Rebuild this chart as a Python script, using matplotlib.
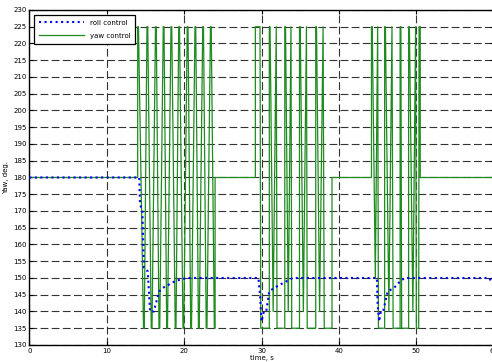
import numpy as np
import matplotlib
matplotlib.use('Agg')
from matplotlib import pyplot as plt

# roll control (blue dotted)
roll_t = [0, 14.2, 14.3, 14.6, 14.8, 15.3, 15.6, 16.1, 16.3, 16.8, 17.2, 18.0, 18.8, 19.5, 20.3,
          29.6, 29.8, 30.0, 30.3, 30.6, 31.0, 31.6, 32.4, 33.2, 34.0,
          44.9, 45.0, 45.2, 45.4, 45.7, 46.3, 47.1, 47.9, 48.5,
          59.4, 59.7, 60]
roll_v = [180, 180, 172, 170, 153, 152, 140, 140, 142, 146, 147, 148, 149, 149.5, 150,
          150, 145, 137, 140, 140, 146, 147, 148, 149, 150,
          150, 142, 137, 140, 140, 146, 147, 149, 150,
          150, 149, 148]

# yaw control (green)
yaw_t = [0, 14.0, 14.0, 14.1, 14.75, 14.85, 15.2, 15.3, 15.75, 15.85, 16.3, 16.4,
         16.75, 16.85, 17.3, 17.4, 17.75, 17.85, 18.3, 18.4, 18.85, 18.95, 19.3, 19.4,
         19.85, 19.95, 20.4, 20.5, 20.85, 20.95, 21.4, 21.5, 21.85, 21.95, 22.4, 22.5,
         22.85, 22.95, 23.4, 23.5, 23.9, 24.0, 24.0,
         29.2, 29.2, 29.3, 29.8, 29.9, 31.0, 31.0, 31.1, 31.5, 31.9, 32.0, 33.0,
         33.0, 33.1, 33.45, 33.8, 33.9, 34.9, 34.9, 35.0, 35.4, 35.8, 35.9, 37.0,
         37.0, 37.1, 37.5, 37.95, 38.1, 39.1, 39.1,
         44.2, 44.2, 44.3, 44.7, 45.0, 45.1, 45.9, 45.9, 46.0, 46.45, 46.85, 47.0,
         47.9, 47.9, 48.0, 48.1, 49.0, 49.0, 49.1, 49.55, 49.9, 50.0, 50.3, 50.35,
         50.5, 50.5, 60]
yaw_v = [180, 180, 225, 225, 135, 135, 225, 225, 135, 135, 225, 225,
         135, 135, 225, 225, 135, 135, 225, 225, 135, 135, 225, 225,
         135, 135, 225, 225, 135, 135, 225, 225, 135, 135, 225, 225,
         135, 135, 225, 225, 135, 135, 180,
         180, 225, 225, 225, 135, 135, 225, 225, 140, 225, 135, 135,
         225, 225, 140, 225, 135, 135, 225, 225, 140, 225, 135, 135,
         225, 225, 140, 225, 135, 135, 180,
         180, 225, 225, 150, 225, 135, 135, 225, 225, 140, 225, 135,
         135, 225, 225, 135, 135, 225, 225, 140, 225, 135, 135, 225,
         225, 180, 180]

fig = plt.figure(figsize=(4.92, 3.62), dpi=100)
ax = fig.add_axes([0.0596, 0.047, 0.944, 0.9254])

ax.plot(roll_t, roll_v, ':', color='blue', lw=1.5, label='roll control', zorder=3)
ax.plot(yaw_t, yaw_v, '-', color='#1e8c1e', lw=0.9, label='yaw control', zorder=2)

ax.set_xlim(0, 60)
ax.set_ylim(130, 230)
ax.set_xticks(np.arange(0, 61, 10))
ax.set_yticks(np.arange(130, 231, 5))
ax.tick_params(direction='in', length=3, width=0.8, labelsize=5, pad=2,
               top=True, right=True)
ax.grid(True, color='#333333', lw=0.8, linestyle=(0, (7, 3)))
for s in ax.spines.values():
    s.set_linewidth(1.0)

ax.set_xlabel('time, s', fontsize=5, labelpad=1)
ax.set_ylabel('Yaw, deg.', fontsize=5, labelpad=3)

leg = ax.legend(loc='upper left', fontsize=5, handlelength=6.5, fancybox=False,
                framealpha=1, edgecolor='black', borderaxespad=0.7,
                borderpad=0.7, labelspacing=1.0)
leg.get_frame().set_linewidth(0.9)

fig.savefig('out.png', dpi=100)
